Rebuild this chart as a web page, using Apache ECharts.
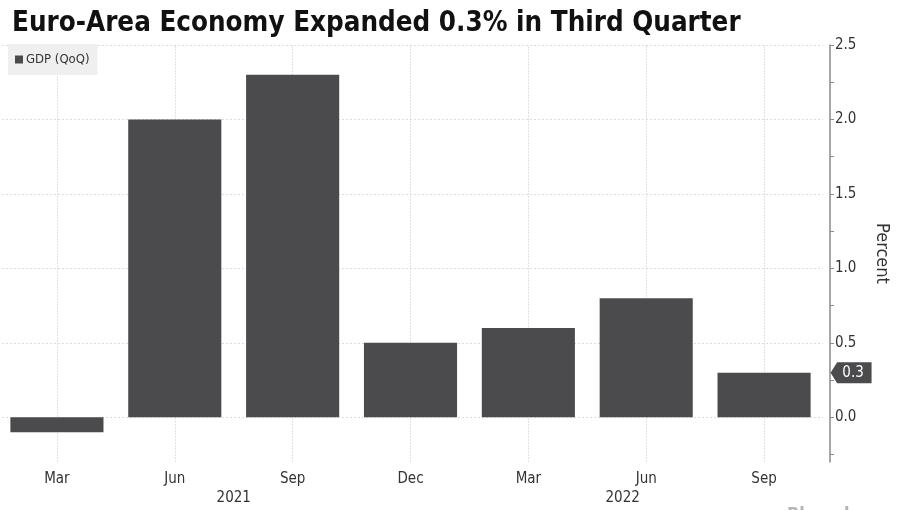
<!DOCTYPE html>
<html><head><meta charset="utf-8">
<script src="https://cdn.jsdelivr.net/npm/echarts@6/dist/echarts.min.js"></script>
<style>html,body{margin:0;padding:0;background:#fff}#c{width:900px;height:510px}</style>
</head><body><div id="c"></div>
<script>
const categories = ['2021-03','2021-06','2021-09','2021-12','2022-03','2022-06','2022-09'];
const monthLabels = ['Mar','Jun','Sep','Dec','Mar','Jun','Sep'];
const gdpQoQ = [-0.1, 2.0, 2.3, 0.5, 0.6, 0.8, 0.3];
const yLabelValues = [0, 0.5, 1.0, 1.5, 2.0, 2.5];
const yTickValues = [-0.25, 0, 0.25, 0.5, 0.75, 1.0, 1.25, 1.5, 1.75, 2.0, 2.25, 2.5];
const yearLabels = ['2021', '2022'];
const yearPositions = [1.5, 4.8];

const FONT = '"Liberation Sans Narrow", "DejaVu Sans Condensed", sans-serif';
const chart = echarts.init(document.getElementById('c'));
chart.setOption({
  animation: false,
  backgroundColor: '#ffffff',
  title: [{
    text: 'Euro-Area Economy Expanded 0.3% in Third Quarter',
    left: 7, top: 5,
    textStyle: { fontFamily: FONT, fontWeight: 'bold', fontSize: 27.5, color: '#111' }
  }, {
    text: 'Bloomberg', left: 782, top: 501,
    textStyle: { fontFamily: FONT, fontWeight: 'bold', fontSize: 18, color: '#b5b5b5' }
  }],
  legend: {
    left: 8, top: 44, padding: [9, 8, 9, 7],
    backgroundColor: '#efefef',
    icon: 'rect', itemWidth: 8, itemHeight: 8, itemGap: 3,
    textStyle: { fontFamily: FONT, fontSize: 13, color: '#333', padding: [0, 0, 0, -2] },
    data: ['GDP (QoQ)']
  },
  grid: { left: -2, right: 77, top: 45, bottom: 48, containLabel: false, outerBoundsMode: 'none' },
  xAxis: [{
    type: 'category', data: categories,
    axisLine: { show: false }, axisTick: { show: false }, splitLine: { show: false },
    axisLabel: {
      margin: 10, fontFamily: FONT, fontSize: 15, color: '#333',
      formatter: (v, i) => monthLabels[i]
    }
  }, {
    type: 'value', min: -0.5, max: 6.5, position: 'bottom', offset: 19,
    axisLine: { show: false }, axisTick: { show: false }, splitLine: { show: false },
    axisLabel: {
      customValues: yearPositions, margin: 10, fontFamily: FONT, fontSize: 15, color: '#333',
      formatter: (v) => yearLabels[yearPositions.indexOf(v)]
    }
  }],
  yAxis: {
    type: 'value', position: 'right', offset: 7, min: -0.3, max: 2.5,
    name: 'Percent', nameLocation: 'middle', nameRotate: -90, nameGap: 43,
    nameTextStyle: { fontFamily: FONT, fontSize: 18, color: '#333' },
    axisLine: { show: true, onZero: false, lineStyle: { color: '#8a8a8a', width: 1.5 } },
    axisTick: { show: true, customValues: yTickValues, length: 4, lineStyle: { color: '#8a8a8a' } },
    splitLine: { show: false },
    axisLabel: {
      customValues: yLabelValues, margin: 5, fontFamily: FONT, fontSize: 15, color: '#333',
      formatter: (v) => v.toFixed(1)
    }
  },
  series: [{
    name: 'grid-v', type: 'line', data: [], z: 0, silent: true,
    markLine: {
      silent: true, symbol: 'none', z: 0, label: { show: false },
      lineStyle: { color: '#e2e2e2', type: [2, 1], width: 1 },
      data: categories.map(c => ({ xAxis: c }))
    }
  }, {
    name: 'grid-h', type: 'line', data: [], z: 0, silent: true,
    markLine: {
      silent: true, symbol: 'none', z: 0, label: { show: false },
      lineStyle: { color: '#dcdcdc', type: [2, 2], width: 1 },
      data: yLabelValues.map(v => ({ yAxis: v }))
    }
  }, {
    name: 'GDP (QoQ)', type: 'bar', data: gdpQoQ, z: 2,
    barCategoryGap: '21%',
    itemStyle: { color: '#4b4a4c' },
    markPoint: {
      silent: true, z: 10,
      symbol: 'path://M0,10 L8,0 L50,0 L50,20 L8,20 Z',
      symbolSize: [41, 21], symbolKeepAspect: false,
      itemStyle: { color: '#4b4a4c' },
      label: { show: true, color: '#fff', fontFamily: FONT, fontSize: 15, offset: [2, 0], formatter: (p) => p.value.toFixed(1) },
      data: [{ coord: [categories[categories.length - 1], gdpQoQ[gdpQoQ.length - 1]], value: gdpQoQ[gdpQoQ.length - 1], symbolOffset: [87, 0] }]
    }
  }]
});
</script></body></html>
